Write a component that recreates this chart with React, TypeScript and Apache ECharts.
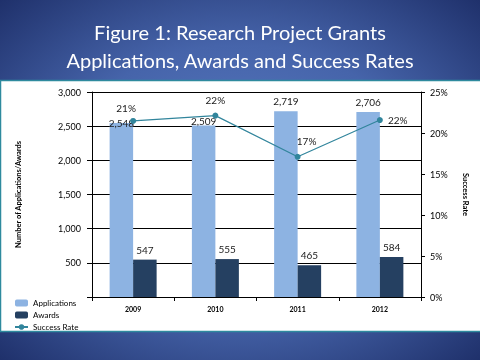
import React, { useEffect, useRef } from "react";
import * as echarts from "echarts";

const years = ["2009", "2010", "2011", "2012"];
const applications = [2548, 2509, 2719, 2706];
const awards = [547, 555, 465, 584];
const successRate = [0.2147, 0.2212, 0.171, 0.2158];
const titleLines = ["Figure 1: Research Project Grants", "Applications, Awards and Success Rates"];

const FONT = "Lato";

export default function App() {
  const ref = useRef<HTMLDivElement>(null);
  useEffect(() => {
    if (!ref.current) return;
    const chart = echarts.init(ref.current, null, { renderer: "svg" });
    const appLabelOffsets = [[0, 10], [0, 5], [0, 0], [0, 0]];
    const rateLabelCfg: any[] = [
      { position: "top", offset: [-7, 0] },
      { position: "top", offset: [0, -3] },
      { position: "top", offset: [9, -3] },
      { position: "right", offset: [0, 0] },
    ];
    chart.setOption({
      animation: false,
      backgroundColor: new echarts.graphic.RadialGradient(0.5, 0.5, 0.75, [
        { offset: 0, color: "#5A7CC4" },
        { offset: 0.5, color: "#4664AA" },
        { offset: 1, color: "#1A2A63" },
      ]),
      textStyle: { fontFamily: FONT },
      title: {
        text: titleLines.join("\n"),
        left: "center",
        top: 13,
        textStyle: {
          color: "#FFFFFF",
          fontFamily: FONT,
          fontSize: 20,
          fontWeight: "normal",
          lineHeight: 28,
        },
      },
      graphic: [
        {
          type: "rect",
          z: -10,
          shape: { x: 0.5, y: 80.5, width: 481, height: 251 },
          style: { fill: "#FFFFFF", stroke: "#2E8A9E", lineWidth: 1.5 },
        },
      ],
      legend: {
        orient: "vertical",
        left: 14,
        top: 297,
        itemWidth: 13,
        itemHeight: 7,
        itemGap: 0,
        padding: 0,
        textStyle: { fontSize: 8, color: "#000", lineHeight: 12, fontFamily: FONT },
        data: ["Applications", "Awards", "Success Rate"],
      },
      grid: { left: 92, right: 59, top: 92, bottom: 63 },
      xAxis: {
        type: "category",
        data: years,
        axisLine: { lineStyle: { color: "#000", width: 1 } },
        axisTick: { show: true, length: 4, lineStyle: { color: "#000" } },
        axisLabel: { fontSize: 7, fontWeight: "bold", color: "#000", margin: 8 },
      },
      yAxis: [
        {
          type: "value",
          min: 0,
          max: 3000,
          interval: 500,
          name: "Number of Applications/Awards",
          nameLocation: "middle",
          nameRotate: 90,
          nameGap: 70,
          nameTextStyle: { fontSize: 7.5, color: "#000", fontWeight: "bold" },
          axisLine: { show: true, lineStyle: { color: "#000" } },
          axisTick: { show: true, length: 5, lineStyle: { color: "#000" } },
          axisLabel: {
            fontSize: 9,
            color: "#000",
            margin: 11,
            formatter: (v: number) => (v === 0 ? "" : v.toLocaleString("en-US")),
          },
          splitLine: { show: true, lineStyle: { color: "#000", width: 1 } },
        },
        {
          type: "value",
          min: 0,
          max: 0.25,
          interval: 0.05,
          name: "Success Rate",
          nameLocation: "middle",
          nameRotate: -90,
          nameGap: 40,
          nameTextStyle: { fontSize: 7.5, color: "#000", fontWeight: "bold" },
          axisLine: { show: true, lineStyle: { color: "#000" } },
          axisTick: { show: true, length: 4, lineStyle: { color: "#000" } },
          axisLabel: {
            fontSize: 9,
            color: "#000",
            margin: 9,
            formatter: (v: number) => Math.round(v * 100) + "%",
          },
          splitLine: { show: false },
        },
      ],
      series: [
        {
          name: "Applications",
          type: "bar",
          yAxisIndex: 0,
          barWidth: 23.5,
          barGap: "0%",
          itemStyle: { color: "#8DB3E2" },
          data: applications.map((v, i) => ({
            value: v,
            label: { offset: appLabelOffsets[i] },
          })),
          label: {
            show: true,
            position: "top",
            fontSize: 10,
            color: "#1a1a1a",
            formatter: (p: any) => Number(p.value).toLocaleString("en-US"),
          },
        },
        {
          name: "Awards",
          type: "bar",
          yAxisIndex: 0,
          barWidth: 23.5,
          barGap: "0%",
          itemStyle: { color: "#254061" },
          data: awards,
          label: {
            show: true,
            position: "top",
            fontSize: 10,
            color: "#1a1a1a",
          },
        },
        {
          name: "Success Rate",
          type: "line",
          yAxisIndex: 1,
          symbol: "circle",
          symbolSize: 6,
          lineStyle: { color: "#31859C", width: 1.2 },
          itemStyle: { color: "#31859C" },
          data: successRate.map((v, i) => ({ value: v, label: rateLabelCfg[i] })),
          label: {
            show: true,
            fontSize: 10,
            color: "#1a1a1a",
            formatter: (p: any) => Math.round(Number(p.value) * 100) + "%",
          },
          z: 5,
        },
      ],
    });
    return () => chart.dispose();
  }, []);
  return (
    <div
      ref={ref}
      style={{ position: "fixed", left: 0, top: 0, width: 480, height: 360 }}
    />
  );
}
